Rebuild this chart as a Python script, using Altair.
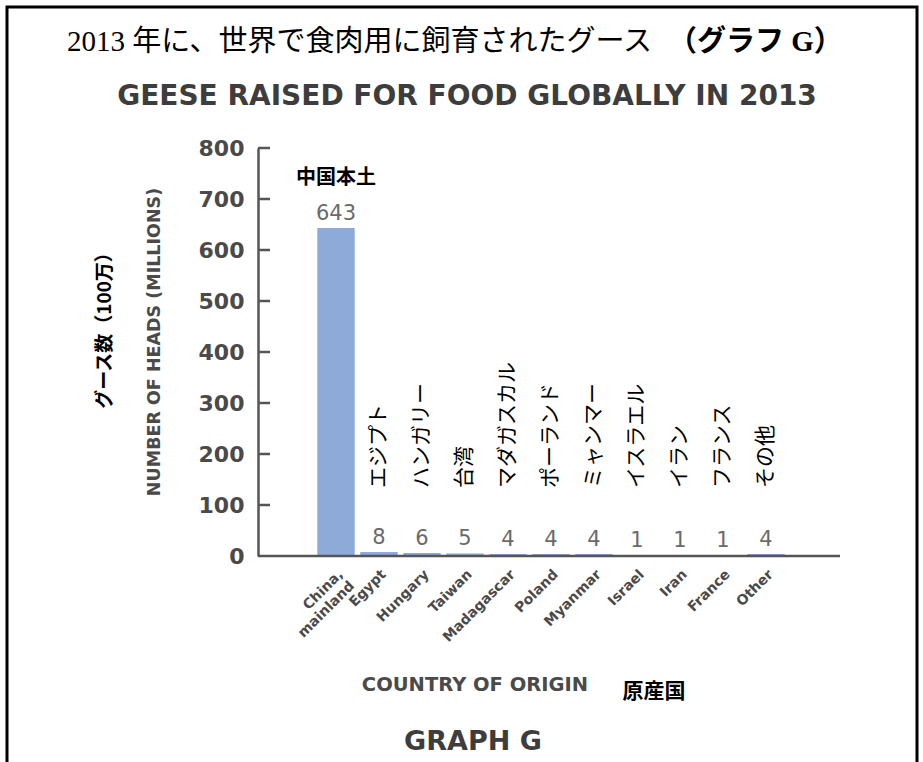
import altair as alt
import pandas as pd

# Geese raised for food in 2013 (millions of heads)
countries = ["China, mainland", "Egypt", "Hungary", "Taiwan", "Madagascar", "Poland",
             "Myanmar", "Israel", "Iran", "France", "Other"]
heads = [643, 8, 6, 5, 4, 4, 4, 1, 1, 1, 4]
names_ja = ["中国本土", "エジプト", "ハンガリー", "台湾", "マダガスカル", "ポーランド",
            "ミャンマー", "イスラエル", "イラン", "フランス", "その他"]
y_ticks = [100, 200, 300, 400, 500, 600, 700, 800]

df = pd.DataFrame({"country": countries, "heads": heads, "ja": names_ja})
df_main = df.iloc[:1]
df_rest = df.iloc[1:]

GREY = "#4a4a4a"
JP = "Noto Sans CJK JP"
EN = "DejaVu Sans"
W, H = 582, 408

x_scale = alt.Scale(range=[59.3, 526.7], paddingInner=0.13, paddingOuter=0)
x_enc = alt.X(
    "country:N", sort=countries, title=None, scale=x_scale,
    axis=alt.Axis(
        labelAngle=-45, labelFont=EN, labelFontWeight="bold", labelFontSize=14,
        labelColor=GREY, labelPadding=11, ticks=False, domain=False,
        labelExpr="datum.label == 'China, mainland' ? ['China,', 'mainland'] : datum.label",
    ),
)
y_scale = alt.Scale(domain=[0, 800], nice=False)
y_enc = alt.Y(
    "heads:Q", scale=y_scale, title=None,
    axis=alt.Axis(
        values=[0] + y_ticks, labelFont=EN, labelFontWeight="bold", labelFontSize=22,
        labelColor=GREY, labelPadding=14, ticks=False, grid=False,
        domainColor="#555555", domainWidth=2.5,
    ),
)
x_plain = alt.X("country:N", sort=countries, scale=x_scale)

bars = alt.Chart(df).mark_bar(color="#8eaad9").encode(x=x_enc, y=y_enc)

values = alt.Chart(df).mark_text(
    font=EN, fontSize=21, color="#6a6a6a", baseline="alphabetic", dy=-8
).encode(x=x_plain, y=alt.Y("heads:Q", scale=y_scale), text="heads:Q")

label_main = alt.Chart(df_main).mark_text(
    font=JP, fontSize=20, fontWeight="bold", color="black", dy=-50
).encode(x=x_plain, y=alt.Y("heads:Q", scale=y_scale), text="ja:N")

label_rest = alt.Chart(df_rest).mark_text(
    font=JP, fontSize=21, color="black", angle=270, align="left", baseline="middle"
).encode(x=x_plain, y=alt.value(340), text="ja:N")

# inward-pointing y ticks
tick_df = pd.DataFrame({"t": y_ticks})
ticks = alt.Chart(tick_df).mark_rule(color="#555555", strokeWidth=2.5).encode(
    y=alt.Y("t:Q", scale=y_scale), x=alt.value(0), x2=alt.value(12)
)

one = pd.DataFrame({"k": [0]})

# baseline running the full width of the plot
baseline = alt.Chart(one).mark_rule(color="#555555", strokeWidth=2.5).encode(
    x=alt.value(0), x2=alt.value(W), y=alt.value(H)
)

def note(text, x, y, **kw):
    return alt.Chart(one).mark_text(**kw).encode(
        x=alt.value(x), y=alt.value(y), text=alt.value(text)
    )

title_ja = note("2013 年に、世界で食肉用に飼育されたグース", 394, -106,
                font="Liberation Serif, " + JP, fontSize=29, align="right", color="black")
title_ja_b = note("（グラフ G）", 410, -106,
                  font="Liberation Serif, " + JP, fontSize=29, fontWeight="bold",
                  align="left", color="black")
title_en = note("GEESE RAISED FOR FOOD GLOBALLY IN 2013", 209, -51,
                font=EN, fontSize=28, fontWeight="bold", color="#3d3d3d")
ytitle_en = note("NUMBER OF HEADS (MILLIONS)", -103, 194,
                 font=EN, fontSize=17.5, fontWeight="bold", color=GREY, angle=270)
ytitle_ja = note("グース数（100万）", -153, 178,
                 font=JP, fontSize=19, fontWeight="bold", color="black", angle=270)
xtitle_en = note("COUNTRY OF ORIGIN", 217, 537,
                 font=EN, fontSize=19.5, fontWeight="bold", color=GREY)
xtitle_ja = note("原産国", 396, 544,
                 font=JP, fontSize=21, fontWeight="bold", color="black")
graph_g = note("GRAPH G", 215, 594,
               font=EN, fontSize=27, fontWeight="bold", color="#3d3d3d")

frame = alt.Chart(one).mark_rect(fillOpacity=0, stroke="black", strokeWidth=3).encode(
    x=alt.value(-251), x2=alt.value(659), y=alt.value(-141), y2=alt.value(720)
)

chart = alt.layer(
    frame, bars, baseline, ticks, values, label_main, label_rest,
    title_ja, title_ja_b, title_en, ytitle_en, ytitle_ja, xtitle_en, xtitle_ja, graph_g,
).properties(
    width=W, height=H,
    padding={"left": 258, "top": 148, "right": 83, "bottom": 206},
    autosize=alt.AutoSizeParams(type="none"),
    background="white",
).configure_view(strokeWidth=0)

chart.save("out.html", embed_options={"renderer": "svg", "actions": False})
